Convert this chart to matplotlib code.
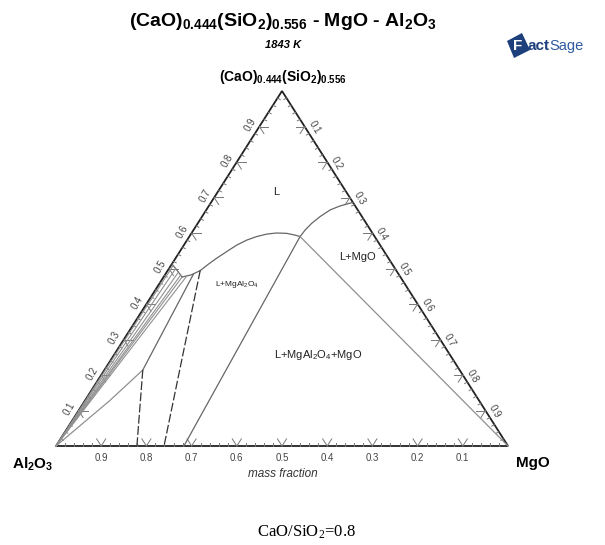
import numpy as np
import matplotlib.pyplot as plt
from matplotlib.patches import Polygon

plt.rcParams['font.family'] = ['Liberation Sans', 'DejaVu Sans']
plt.rcParams['mathtext.default'] = 'regular'
plt.rcParams['mathtext.fontset'] = 'custom'
plt.rcParams['mathtext.rm'] = 'Liberation Sans'
plt.rcParams['mathtext.bf'] = 'Liberation Sans:bold'

# compositions as mass fractions: C = (CaO)0.444(SiO2)0.556, M = MgO, Al2O3 = 1 - C - M
# liquidus, L + Al2O3 side (from the left edge)
liq_al_C = [0.513, 0.497, 0.476]
liq_al_M = [0.000, 0.018, 0.041]
# short boundary towards the L + MgAl2O4 field
liq_mid_C = [0.476, 0.482, 0.494]
liq_mid_M = [0.041, 0.058, 0.072]
# liquidus, L + MgAl2O4
liq_sp_C = [0.494, 0.512, 0.529, 0.548, 0.566, 0.580, 0.590, 0.597,
            0.600, 0.599, 0.594, 0.590]
liq_sp_M = [0.072, 0.081, 0.091, 0.104, 0.117, 0.132, 0.149, 0.168,
            0.188, 0.211, 0.232, 0.245]
# liquidus, L + MgO
liq_mgo_C = [0.590, 0.608, 0.627, 0.646, 0.665, 0.676, 0.684, 0.686]
liq_mgo_M = [0.245, 0.247, 0.252, 0.261, 0.274, 0.290, 0.308, 0.314]

# tie lines from the liquidus to Al2O3
fan_C = [0.508, 0.499, 0.490, 0.481, 0.476, 0.479]
fan_M = [0.005, 0.015, 0.026, 0.035, 0.041, 0.050]

# boundaries meeting at the spinel-side corner point
q_edge_C = [0.484, 0.214]
q_edge_M = [0.062, 0.085]
q_al_C = [0.214, 0.128, 0.0]
q_al_M = [0.085, 0.055, 0.0]

# dashed tie lines down to the MgO-Al2O3 edge
dash_C = [[0.214, 0.0], [0.494, 0.0]]
dash_M = [[0.085, 0.179], [0.072, 0.239]]

# three-phase triangle L + MgAl2O4 + MgO
tri_C = 0.590
tri_M = 0.245
spinel_M = 0.283

tick_vals = [0.1, 0.2, 0.3, 0.4, 0.5, 0.6, 0.7, 0.8, 0.9]


def xy(c, m):
    c = np.asarray(c, dtype=float)
    m = np.asarray(m, dtype=float)
    return m + c / 2, c


W, H = 605, 545
fig = plt.figure(figsize=(W / 100, H / 100), dpi=100)
ax = fig.add_axes([56 / W, 1 - 446 / H, 452 / W, 355 / H])
ax.set_xlim(0, 1)
ax.set_ylim(0, 1)
ax.axis('off')

edge_col = '#222222'
line_col = '#666666'
tick_col = '#777777'

# triangle frame
ax.plot(*xy([0, 0, 1, 0], [0, 1, 0, 0]), color=edge_col, lw=1.3,
        clip_on=False, solid_joinstyle='miter')

# ticks: minor every 0.02, majors drawn as a V along the two other grid directions
edges = {
    'bottom': (lambda v: (0.0, 1 - v), (1, 0), (1, -1)),
    'left': (lambda v: (v, 0.0), (0, 1), (-1, 1)),
    'right': (lambda v: (1 - v, v), (0, -1), (-1, 0)),
}
for name, (pt, d1, d2) in edges.items():
    for k in range(1, 50):
        v = k * 0.02
        c0, m0 = pt(v)
        if k % 5 == 0:
            for d in (d1, d2):
                L = 0.02
                ax.plot(*xy([c0, c0 + d[0] * L], [m0, m0 + d[1] * L]),
                        color=tick_col, lw=0.7, clip_on=False)
        else:
            L = 0.008
            dc = (d1[0] + d2[0]) / 2
            dm = (d1[1] + d2[1]) / 2
            ax.plot(*xy([c0, c0 + dc * L], [m0, m0 + dm * L]),
                    color=tick_col, lw=0.7, clip_on=False)

# tick labels
lab_kw = dict(textcoords='offset points', fontsize=7, color='#444444',
              ha='center', va='center', annotation_clip=False)
for v in tick_vals:
    ax.annotate(f'{v:.1f}', xy(0, 1 - v), xytext=(0, -12 * 0.72), **lab_kw)
    ax.annotate(f'{v:.1f}', xy(v, 0), xytext=(-9 * 0.72, 1.5 * 0.72),
                rotation=60, **lab_kw)
    ax.annotate(f'{v:.1f}', xy(1 - v, v), xytext=(9.5 * 0.72, -1 * 0.72),
                rotation=-60, **lab_kw)

# phase boundaries
bkw = dict(color=line_col, lw=0.9, clip_on=False)
ax.plot(*xy(liq_al_C, liq_al_M), **bkw)
ax.plot(*xy(liq_mid_C, liq_mid_M), **bkw)
ax.plot(*xy(liq_sp_C, liq_sp_M), **bkw)
ax.plot(*xy(liq_mgo_C, liq_mgo_M), **bkw)

for c, m in zip(fan_C, fan_M):
    ax.plot(*xy([c, 0], [m, 0]), color='#909090', lw=0.8, clip_on=False)

ax.plot(*xy(q_edge_C, q_edge_M), **bkw)
ax.plot(*xy(q_al_C, q_al_M), color='#909090', lw=0.9, clip_on=False)

for cs, ms in zip(dash_C, dash_M):
    ax.plot(*xy(cs, ms), color='#333333', lw=0.9, dashes=(7, 2),
            clip_on=False)

ax.plot(*xy([tri_C, 0], [tri_M, spinel_M]), **bkw)
ax.plot(*xy([tri_C, 0], [tri_M, 1]), color='#909090', lw=0.9, clip_on=False)


def ftext(x, y, s, **kw):
    return fig.text(x / W, 1 - y / H, s, ha='center', va='center', **kw)


# phase field labels
ftext(276, 192, 'L', fontsize=8, color='#222222')
ftext(357, 257, 'L+MgO', fontsize=8, color='#222222')
ftext(237, 285, 'L+MgAl$_2$O$_4$', fontsize=6, color='#222222')
ftext(318, 355, 'L+MgAl$_2$O$_4$+MgO', fontsize=8, color='#222222')

# titles and corner labels
ftext(283, 22, r'(CaO)$_{\mathbf{0.444}}$(SiO$_{\mathbf{2}}$)$_{\mathbf{0.556}}$'
      r' - MgO - Al$_{\mathbf{2}}$O$_{\mathbf{3}}$',
      fontsize=14, fontweight='bold')
ftext(283, 45, '1843 K', fontsize=8, fontweight='bold', style='italic')
ftext(283, 77, r'(CaO)$_{\mathbf{0.444}}$(SiO$_{\mathbf{2}}$)$_{\mathbf{0.556}}$',
      fontsize=10, fontweight='bold')
ftext(33, 464, r'Al$_{\mathbf{2}}$O$_{\mathbf{3}}$', fontsize=11,
      fontweight='bold')
ftext(533, 463, 'MgO', fontsize=11, fontweight='bold')
ftext(283, 474, 'mass fraction', fontsize=8.5, style='italic',
      color='#333333')
ftext(306, 532, 'CaO/SiO$_2$=0.8', fontsize=12,
      family=['Liberation Serif', 'DejaVu Serif'])

# FactSage logo
logo = Polygon([(507 / W, 1 - 41 / H), (522 / W, 1 - 33 / H),
                (530 / W, 1 - 50 / H), (514 / W, 1 - 58 / H)],
               closed=True, transform=fig.transFigure,
               facecolor='#1d3f7c', edgecolor='none')
fig.patches.append(logo)
fig.text(513 / W, 1 - 46 / H, 'F', fontsize=11, fontweight='bold',
         color='white', ha='left', va='center')
fig.text(527 / W, 1 - 46 / H, 'act', fontsize=11, fontweight='bold',
         color='#1d3f7c', ha='left', va='center')
fig.text(549 / W, 1 - 46 / H, 'Sage', fontsize=10.5, color='#2f5aa0',
         ha='left', va='center')

fig.savefig('out.png', dpi=100, facecolor='white')
